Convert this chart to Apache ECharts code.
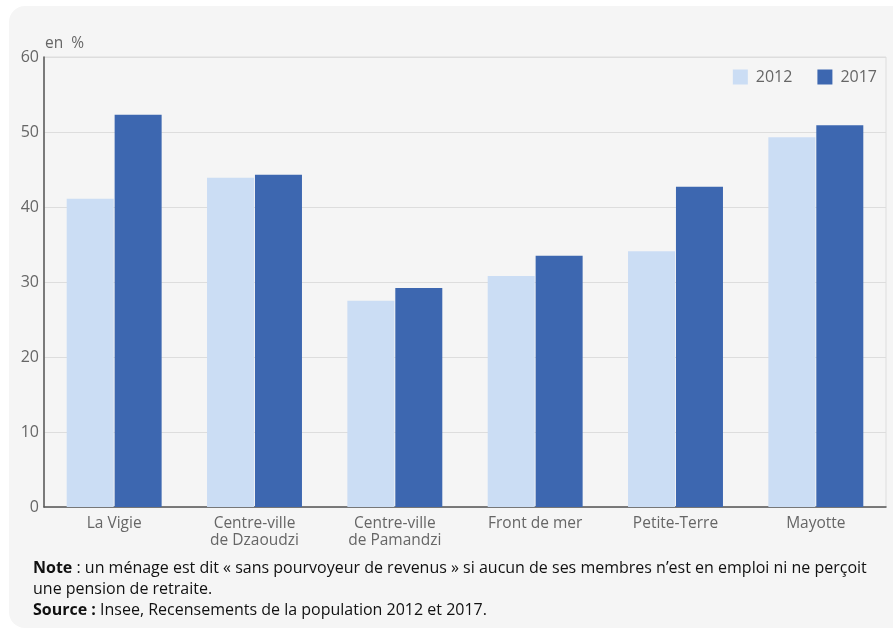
<!DOCTYPE html>
<html><head><meta charset="utf-8">
<script src="https://cdn.jsdelivr.net/npm/echarts@6/dist/echarts.min.js"></script>
<style>html,body{margin:0;padding:0;background:#fff;}#c{width:893px;height:630px;}</style>
</head><body><div id="c"></div>
<script>
const categories = ['La Vigie', 'Centre-ville\nde Dzaoudzi', 'Centre-ville\nde Pamandzi', 'Front de mer', 'Petite-Terre', 'Mayotte'];
const values2012 = [41.1, 43.9, 27.5, 30.8, 34.1, 49.3];
const values2017 = [52.3, 44.3, 29.2, 33.5, 42.7, 50.9];
const seriesNames = ['2012', '2017'];
const yTicks = [0, 10, 20, 30, 40, 50, 60];

const font = '"Open Sans", "Noto Sans", sans-serif';
const chart = echarts.init(document.getElementById('c'), null, {renderer: 'canvas'});
chart.setOption({
  animation: false,
  textStyle: {fontFamily: font},
  graphic: [
    {type: 'rect', z: -10, shape: {x: 9, y: 6, width: 920, height: 622, r: 16}, style: {fill: '#f5f5f5'}},
    {type: 'text', left: 45, top: 36, style: {text: 'en  %', fill: '#666', font: '15.5px ' + font}},
    {type: 'text', left: 33, top: 558, style: {
      text: '{b|Note} : un ménage est dit « sans pourvoyeur de revenus » si aucun de ses membres n’est en emploi ni ne perçoit\nune pension de retraite.\n{b|Source :} Insee, Recensements de la population 2012 et 2017.',
      fill: '#111', font: '16px ' + font, lineHeight: 21,
      rich: {b: {fontWeight: 'bold', fontSize: 16, fontFamily: font, fill: '#111', lineHeight: 21}}
    }}
  ],
  legend: {
    right: 11, top: 64, itemWidth: 15, itemHeight: 15, itemGap: 25,
    icon: 'rect',
    textStyle: {color: '#666', fontSize: 16, fontFamily: font, padding: [0, 0, 0, 3]},
    data: seriesNames
  },
  grid: {left: 44, right: 7, top: 57, bottom: 123, containLabel: false, show: true, borderColor: '#ddd', borderWidth: 1, backgroundColor: 'transparent'},
  xAxis: {
    type: 'category', data: categories,
    axisLine: {lineStyle: {color: '#555', width: 1.5}},
    axisTick: {show: false},
    axisLabel: {color: '#666', fontSize: 15.5, lineHeight: 17, margin: 8, fontFamily: font, interval: 0}
  },
  yAxis: {
    type: 'value', min: 0, max: 60, interval: 10,
    axisLine: {show: true, lineStyle: {color: '#555', width: 1.5}},
    axisTick: {show: false},
    splitLine: {lineStyle: {color: '#ddd'}},
    axisLabel: {color: '#666', fontSize: 16, margin: 5, fontFamily: font,
      formatter: v => yTicks.includes(v) ? String(v) : ''}
  },
  series: [
    {name: seriesNames[0], type: 'bar', data: values2012, barWidth: 47, barGap: '2%', itemStyle: {color: '#cbddf4'}},
    {name: seriesNames[1], type: 'bar', data: values2017, barWidth: 47, itemStyle: {color: '#3d67b0'}}
  ]
});
</script></body></html>
